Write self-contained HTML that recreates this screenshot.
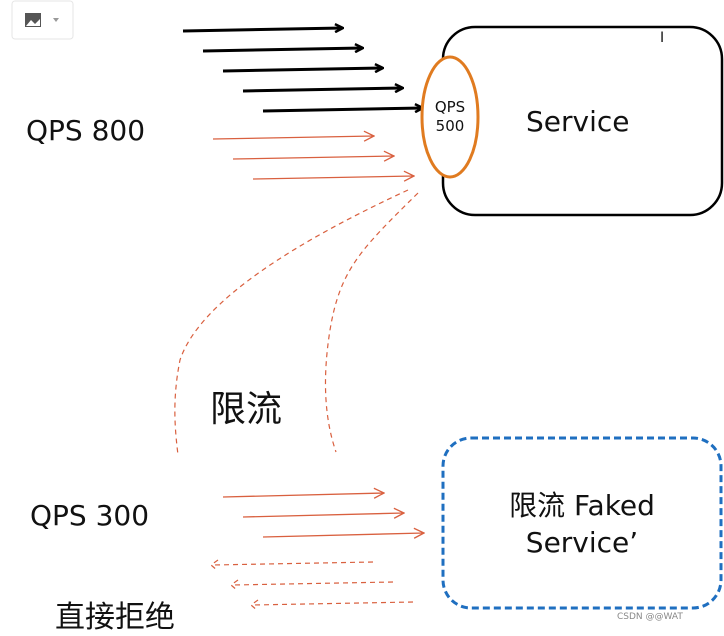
<!DOCTYPE html>
<html><head><meta charset="utf-8"><style>
body{margin:0;width:724px;height:632px;background:#fff;overflow:hidden;position:relative;font-family:"DejaVu Sans","Liberation Sans","Noto Sans CJK SC",sans-serif}
.t{position:absolute;color:#111;white-space:nowrap}
</style></head><body>
<svg width="724" height="632" style="position:absolute;left:0;top:0">
<defs>
<marker id="bk" markerWidth="10" markerHeight="10" refX="9" refY="5" orient="auto" markerUnits="userSpaceOnUse"><path d="M1,1 L9,5 L1,9" fill="none" stroke="#000" stroke-width="2.5"/></marker>
<marker id="or" markerWidth="12" markerHeight="12" refX="11" refY="6" orient="auto" markerUnits="userSpaceOnUse"><path d="M1,1 L11,6 L1,11" fill="none" stroke="#d9603f" stroke-width="1.3"/></marker>
</defs>
<rect x="12" y="1" width="61" height="38" rx="3" fill="#fff" stroke="#e6e6e6"/>
<rect x="25" y="13" width="16" height="14" fill="#555" /><path d="M26,26 L31,20 L35,24 L40,19 L40,26Z" fill="#fff"/>
<path d="M53,18 L59,18 L56,22Z" fill="#999"/>
<g stroke="#000" stroke-width="3" marker-end="url(#bk)">
<line x1="183" y1="31" x2="343" y2="28"/>
<line x1="203" y1="51" x2="363" y2="48"/>
<line x1="223" y1="71" x2="383" y2="68"/>
<line x1="243" y1="91" x2="403" y2="88"/>
<line x1="263" y1="111" x2="423" y2="108"/>
</g>
<rect x="443" y="27" width="279" height="188" rx="32" fill="none" stroke="#000" stroke-width="2.5"/>
<ellipse cx="450" cy="117" rx="28" ry="60" fill="#fff" stroke="#e07b20" stroke-width="3"/>
<g stroke="#d9603f" stroke-width="1.3" marker-end="url(#or)">
<line x1="213" y1="139" x2="374" y2="136"/>
<line x1="233" y1="159" x2="394" y2="156"/>
<line x1="253" y1="179" x2="414" y2="176"/>
<line x1="223" y1="497" x2="384" y2="493"/>
<line x1="243" y1="517" x2="404" y2="513"/>
<line x1="263" y1="537" x2="424" y2="533"/>
</g>
<g stroke="#d9603f" stroke-width="1.2" fill="none" stroke-dasharray="5,4">
<path d="M408,190 C300,240 200,300 180,360 C172,400 175,430 178,455"/>
<path d="M418,193 C360,250 340,270 330,330 C322,380 325,420 336,452"/>
<path d="M373,562 L213,565 M218,560 L211,565 L218,571"/>
<path d="M393,582 L233,585 M238,580 L231,585 L238,591"/>
<path d="M413,602 L253,605 M258,600 L251,605 L258,611"/>
</g>
<rect x="443" y="438" width="278" height="170" rx="28" fill="none" stroke="#1f6fc0" stroke-width="3" stroke-dasharray="7,4"/>
</svg>
<div class="t" style="left:26px;top:114px;font-size:28px">QPS 800</div>
<div class="t" style="left:427px;top:98px;font-size:15px;line-height:19px;text-align:center;width:46px">QPS<br>500</div>
<div class="t" style="left:526px;top:105px;font-size:28px">Service</div>
<div class="t" style="left:210px;top:380px;font-size:36px">限流</div>
<div class="t" style="left:30px;top:499px;font-size:28px">QPS 300</div>
<div class="t" style="left:443px;top:487px;width:278px;text-align:center;font-size:28px;line-height:37px">限流 Faked<br>Service’</div>
<div class="t" style="left:55px;top:592px;font-size:30px">直接拒绝</div>
<div class="t" style="left:617px;top:612px;font-size:9px;color:#888">CSDN @@WAT</div>
<div class="t" style="left:660px;top:30px;font-size:14px">I</div>
</body></html>
